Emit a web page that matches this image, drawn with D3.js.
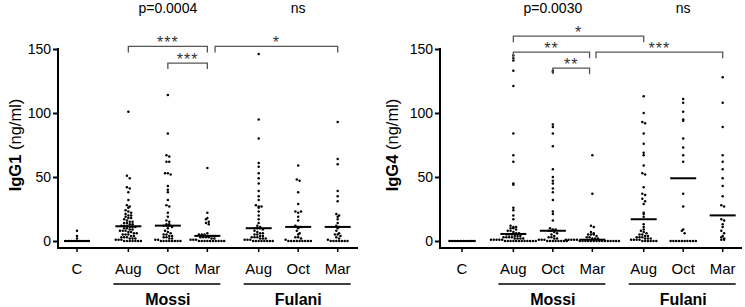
<!DOCTYPE html>
<html><head><meta charset="utf-8">
<script src="https://cdn.jsdelivr.net/npm/d3@7"></script>
<style>
body{margin:0;background:#fff}
svg{display:block;font-family:"Liberation Sans",Arial,sans-serif}
</style>
</head><body>
<svg id="chart" width="745" height="307"></svg>
<script>
// ---------------- DATA ----------------
const categories = ["C", "Aug", "Oct", "Mar", "Aug", "Oct", "Mar"];
const groupNames = ["Mossi", "Fulani"];
const yTicks = [0, 50, 100, 150];

// IgG1 (ng/ml)
const igg1_C = [0, 0, 0, 0, 0, 0, 0, 0, 0, 2, 4, 8];
const igg1_MossiAug = [101, 51, 49, 42, 41, 38, 32, 28, 27, 26, 24, 23, 22, 21, 20, 20, 19, 18, 18, 17, 16, 15, 15, 14, 14, 13, 13, 12, 12, 12, 11, 11, 11, 10, 10, 9, 9, 8, 8, 8, 7, 7, 6, 6, 5, 5, 5, 4, 4, 3, 3, 3, 2, 2, 2, 1, 1, 1, 0, 0, 0, 0, 0, 0, 0];
const igg1_MossiOct = [114, 84, 67, 66, 62, 62, 53, 53, 52, 43, 40, 38, 32, 28, 27, 22, 19, 16, 15, 13, 13, 12, 12, 12, 11, 10, 8, 7, 6, 5, 5, 4, 4, 3, 3, 2, 2, 1, 1, 0, 0, 0, 0, 0, 0, 0, 0];
const igg1_MossiMar = [57, 22, 18, 17, 15, 14, 13, 6, 5, 5, 5, 4, 4, 4, 4, 3, 3, 3, 3, 2, 2, 1, 1, 1, 0, 0, 0, 0, 0, 0, 0, 0, 0, 0];
const igg1_FulaniAug = [146, 95, 80, 61, 58, 53, 49, 45, 39, 35, 32, 28, 27, 27, 26, 23, 20, 17, 14, 12, 11, 10, 10, 10, 9, 8, 7, 6, 6, 5, 5, 4, 4, 3, 3, 3, 2, 2, 2, 1, 1, 1, 0, 0, 0, 0, 0, 0, 0, 0];
const igg1_FulaniOct = [59, 48, 47, 38, 29, 23, 22, 23, 19, 16, 12, 11, 11, 10, 8, 6, 5, 3, 3, 2, 1, 0, 0, 0, 0, 0, 0, 0, 0, 0];
const igg1_FulaniMar = [93, 64, 60, 39, 35, 31, 21, 20, 19, 17, 14, 12, 11, 10, 8, 6, 5, 5, 4, 3, 2, 1, 0, 0, 0, 0, 0, 0, 0];
const igg1_medians = [0, 11.5, 12, 4, 10, 11, 11];

// IgG4 (ng/ml)
const igg4_C = [0, 0, 0, 0, 0, 0, 0, 0, 0, 0];
const igg4_MossiAug = [145, 143, 141, 133, 121, 84, 67, 62, 45, 44, 26, 24, 20, 17, 12, 11, 11, 10, 10, 9, 8, 8, 7, 6, 6, 5, 5, 5, 4, 4, 4, 3, 3, 3, 3, 2, 2, 2, 2, 1, 1, 1, 1, 1, 0, 0, 0, 0, 0, 0, 0, 0, 0, 0, 0, 0];
const igg4_MossiOct = [133, 132, 91, 89, 84, 74, 56, 50, 47, 45, 41, 38, 32, 23, 21, 16, 10, 9, 9, 8, 8, 7, 6, 5, 4, 3, 3, 2, 2, 1, 1, 1, 0, 0, 0, 0, 0, 0, 0, 0];
const igg4_MossiMar = [67, 37, 12, 11, 7, 6, 5, 5, 5, 4, 3, 3, 2, 2, 2, 1, 1, 1, 1, 1, 0, 0, 0, 0, 0, 0, 0, 0, 0, 0, 0, 0, 0, 0, 0];
const igg4_FulaniAug = [113, 100, 93, 92, 84, 76, 69, 67, 59, 53, 52, 42, 37, 36, 33, 31, 29, 22, 21, 19, 13, 11, 9, 8, 7, 6, 5, 5, 4, 4, 3, 3, 3, 2, 2, 2, 1, 1, 1, 1, 0, 0, 0, 0, 0, 0];
const igg4_FulaniOct = [111, 108, 101, 95, 94, 80, 73, 67, 62, 37, 27, 9, 8, 6, 0, 0, 0, 0, 0, 0, 0, 0, 0, 0];
const igg4_FulaniMar = [128, 108, 89, 67, 62, 56, 49, 43, 35, 28, 27, 17, 16, 13, 11, 8, 6, 4, 3, 2, 1, 1];
const igg4_medians = [0, 5.5, 8, 1, 17, 49, 20];

// p values per group, and pairwise comparisons (category indices, level in ng/ml)
const igg1_pvalues = ["p=0.0004", "ns"];
const igg4_pvalues = ["p=0.0030", "ns"];
const igg1_brackets = [
  {from: 1, to: 3, level: 152, label: "***"},
  {from: 2, to: 3, level: 139, label: "***"},
  {from: 3.15, to: 6, level: 152, label: "*"}
];
const igg4_brackets = [
  {from: 1, to: 4, level: 160, label: "*"},
  {from: 1, to: 2.93, level: 147.5, label: "**"},
  {from: 2, to: 2.93, level: 135, label: "**"},
  {from: 3.07, to: 6, level: 147.5, label: "***"}
];

// ---------------- LAYOUT ----------------
const slot = [0, 1.3, 2.3, 3.3, 4.6, 5.6, 6.6];   // horizontal slot of each category (gap between groups)
const panels = [
  {label: "IgG1", values: [igg1_C, igg1_MossiAug, igg1_MossiOct, igg1_MossiMar, igg1_FulaniAug, igg1_FulaniOct, igg1_FulaniMar],
   medians: igg1_medians, pvalues: igg1_pvalues, brackets: igg1_brackets,
   axisX: 58, xEnd: 358, c0: 77, labelX: 15},
  {label: "IgG4", values: [igg4_C, igg4_MossiAug, igg4_MossiOct, igg4_MossiMar, igg4_FulaniAug, igg4_FulaniOct, igg4_FulaniMar],
   medians: igg4_medians, pvalues: igg4_pvalues, brackets: igg4_brackets,
   axisX: 440, xEnd: 742, c0: 462, labelX: 392}
];
const step = 39.5;
const svg = d3.select("#chart");
const y = d3.scaleLinear().domain([0, 150]).range([241, 49]);
const xAxisY = 248;

function slotPos(i) {
  const lo = Math.floor(i), hi = Math.ceil(i);
  return slot[lo] + (slot[hi] - slot[lo]) * (i - lo);
}

// row-binned scatter layout (points of similar value side by side)
function rowLayout(vals, cx, d, rowPx) {
  const bins = d3.group(vals, v => Math.round(y(v) / rowPx));
  const out = [];
  for (const [k, arr] of bins) {
    const n = arr.length;
    arr.forEach((v, j) => {
      out.push({x: cx + (j - (n - 1) / 2) * d, y: y(v)});
    });
  }
  return out;
}

panels.forEach(P => {
  const g = svg.append("g");
  const x = d3.scaleLinear().domain([0, 6.6]).range([P.c0, P.c0 + 6.6 * step]);
  const cx = i => x(slotPos(i));

  // y axis
  const ya = d3.axisLeft(y).tickValues(yTicks).tickSize(5).tickPadding(2).tickFormat(d3.format("d"));
  const yg = g.append("g").attr("transform", `translate(${P.axisX},0)`).call(ya);
  yg.select(".domain").remove();
  yg.selectAll(".tick line").attr("stroke", "#000").attr("stroke-width", 2);
  yg.selectAll(".tick text").attr("font-size", 14).attr("fill", "#000").attr("font-family", "Liberation Sans, Arial, sans-serif");
  g.append("line").attr("x1", P.axisX).attr("x2", P.axisX).attr("y1", y(150) - 1).attr("y2", xAxisY + 1)
    .attr("stroke", "#000").attr("stroke-width", 2);

  // x axis
  g.append("line").attr("x1", P.axisX).attr("x2", P.xEnd).attr("y1", xAxisY).attr("y2", xAxisY)
    .attr("stroke", "#000").attr("stroke-width", 2);
  categories.forEach((c, i) => {
    g.append("line").attr("x1", cx(i)).attr("x2", cx(i)).attr("y1", xAxisY).attr("y2", xAxisY + 4)
      .attr("stroke", "#000").attr("stroke-width", 1.5);
    g.append("text").attr("x", cx(i)).attr("y", 274).attr("text-anchor", "middle")
      .attr("font-size", 15).text(c);
  });

  // group underlines and labels
  groupNames.forEach((name, gi) => {
    const a = 1 + gi * 3, b = 3 + gi * 3;
    g.append("line").attr("x1", cx(a) - 15).attr("x2", cx(b) + 13).attr("y1", 284).attr("y2", 284)
      .attr("stroke", "#000").attr("stroke-width", 1.5);
    g.append("text").attr("x", (cx(a) + cx(b)) / 2).attr("y", 305).attr("text-anchor", "middle")
      .attr("font-size", 16).attr("font-weight", "bold").text(name);
    g.append("text").attr("x", (cx(a) + cx(b)) / 2).attr("y", 13).attr("text-anchor", "middle")
      .attr("font-size", 14).text(P.pvalues[gi]);
  });

  // y label
  const yl = g.append("text").attr("transform", `translate(${P.labelX + 6},145) rotate(-90)`)
    .attr("text-anchor", "middle").attr("font-size", 16.5);
  yl.append("tspan").attr("font-weight", "bold").text(P.label);
  yl.append("tspan").text(" (ng/ml)");

  // dots
  P.values.forEach((vals, i) => {
    const pts = rowLayout(vals, cx(i), 2.8, 2.9);
    g.append("g").selectAll("circle").data(pts).join("circle")
      .attr("cx", d => d.x).attr("cy", d => d.y).attr("r", 1.25).attr("fill", "#000");
  });

  // medians
  P.medians.forEach((m, i) => {
    g.append("line").attr("x1", cx(i) - 13).attr("x2", cx(i) + 13).attr("y1", y(m)).attr("y2", y(m))
      .attr("stroke", "#000").attr("stroke-width", 2);
  });

  // brackets
  P.brackets.forEach(b => {
    const x1 = cx(b.from), x2 = cx(b.to), yy = y(b.level);
    g.append("path").attr("d", `M${x1},${yy + 6}V${yy}H${x2}V${yy + 6}`)
      .attr("fill", "none").attr("stroke", "#555").attr("stroke-width", 1.3);
    g.append("text").attr("x", (x1 + x2) / 2).attr("y", yy + 1.5).attr("text-anchor", "middle")
      .attr("font-size", 16).attr("letter-spacing", 1).attr("fill", "#333").text(b.label);
  });
});
</script>
</body></html>
